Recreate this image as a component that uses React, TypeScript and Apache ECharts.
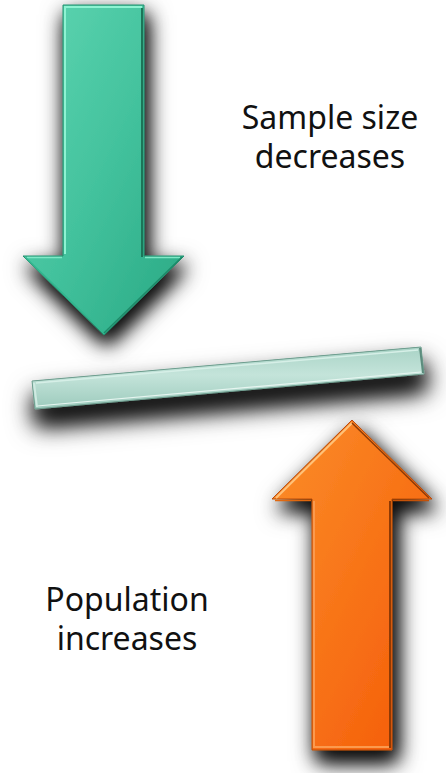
import React, { useEffect, useRef } from "react";
import * as echarts from "echarts";

// Texts shown in the illustration
const topLabel = ["Sample size", "decreases"];
const bottomLabel = ["Population", "increases"];

// Shape outlines (screen px)
const greenArrow = [[63, 5], [144, 5], [144, 256], [184, 256], [104, 335], [23, 256], [63, 256]];
const orangeArrow = [[352, 420], [432, 499], [392, 499], [392, 750], [312, 750], [312, 499], [272, 499]];
const beam = [[32, 381], [421, 347], [424, 374], [35, 409]];

const lg = (x: number, y: number, x2: number, y2: number, stops: [number, string][]) =>
  new echarts.graphic.LinearGradient(x, y, x2, y2, stops.map(([offset, color]) => ({ offset, color })));

export default function App() {
  const ref = useRef<HTMLDivElement>(null);
  useEffect(() => {
    document.body.style.margin = "0";
    const chart = echarts.init(ref.current!, null, { renderer: "svg" });
    const font = "Noto Sans";
    const textEl = (lines: string[], x: number, y: number) => ({
      type: "text",
      x,
      y,
      style: {
        text: lines.join("\n"),
        fill: "#111",
        font: `32px '${font}'`,
        lineHeight: 39,
        align: "center",
        verticalAlign: "middle",
      },
    });
    const shadowLayer = (points: number[][], blur: number, dx: number, dy: number) => ({
      type: "polygon",
      shape: { points },
      style: { fill: "#555", shadowBlur: blur, shadowOffsetX: dx, shadowOffsetY: dy, shadowColor: "rgba(0,0,0,0.85)" },
    });
    chart.setOption({
      animation: false,
      backgroundColor: "#ffffff",
      graphic: [
        // green arrow
        shadowLayer(greenArrow, 18, 3, 10),
        {
          type: "polygon",
          shape: { points: greenArrow },
          style: {
            fill: lg(0, 0, 1, 1, [[0, "#5fd6b2"], [0.5, "#43c29d"], [1, "#28a883"]]),
            stroke: "#23906f",
            lineWidth: 1,
            shadowBlur: 24,
            shadowOffsetX: 3,
            shadowOffsetY: 10,
            shadowColor: "rgba(0,0,0,0.8)",
          },
        },
        { type: "polyline", shape: { points: [[65, 254], [65, 7], [142, 7]] }, style: { stroke: "#8ef3d2", lineWidth: 2, fill: null } },
        { type: "polyline", shape: { points: [[142, 8], [142, 257]] }, style: { stroke: "#1b7558", lineWidth: 2, fill: null } },
        { type: "polyline", shape: { points: [[27, 257.5], [62, 257.5]] }, style: { stroke: "#7fe8c6", lineWidth: 1.5, fill: null } },
        { type: "polyline", shape: { points: [[145, 257.5], [180, 257.5]] }, style: { stroke: "#7fe8c6", lineWidth: 1.5, fill: null } },
        { type: "polyline", shape: { points: [[26, 258], [104, 333]] }, style: { stroke: "#32b68f", lineWidth: 1.5, fill: null } },
        { type: "polyline", shape: { points: [[104, 333], [182, 257]] }, style: { stroke: "#1d8a69", lineWidth: 1.5, fill: null } },

        // beam
        shadowLayer(beam, 20, 2, 16),
        {
          type: "polygon",
          shape: { points: beam },
          style: {
            fill: lg(0, 0, 0, 1, [[0, "#a9d3c6"], [0.45, "#c4e4da"], [1, "#9ccabc"]]),
            stroke: "#6f9f90",
            lineWidth: 1,
            shadowBlur: 28,
            shadowOffsetX: 2,
            shadowOffsetY: 16,
            shadowColor: "rgba(0,0,0,0.8)",
          },
        },
        { type: "polyline", shape: { points: [[36, 383], [418, 350]] }, style: { stroke: "#d6efe7", lineWidth: 1.5, fill: null } },
        { type: "polyline", shape: { points: [[37, 406], [421, 372]] }, style: { stroke: "#e6f5f0", lineWidth: 1.2, fill: null } },
        { type: "polyline", shape: { points: [[420, 348], [423, 373]] }, style: { stroke: "#5c8c7d", lineWidth: 2, fill: null } },
        { type: "polyline", shape: { points: [[34, 383], [37, 407]] }, style: { stroke: "#cfeae1", lineWidth: 2, fill: null } },

        // orange arrow
        shadowLayer(orangeArrow, 18, 5, 11),
        {
          type: "polygon",
          shape: { points: orangeArrow },
          style: {
            fill: lg(0, 0, 1, 1, [[0, "#fb8e2a"], [0.5, "#f87418"], [1, "#f45a08"]]),
            stroke: "#b84a08",
            lineWidth: 1,
            shadowBlur: 24,
            shadowOffsetX: 5,
            shadowOffsetY: 11,
            shadowColor: "rgba(0,0,0,0.8)",
          },
        },
        { type: "polyline", shape: { points: [[276, 498], [352, 423]] }, style: { stroke: "#ffc27a", lineWidth: 2, fill: null } },
        { type: "polyline", shape: { points: [[352, 423], [429, 498]] }, style: { stroke: "#8e3a05", lineWidth: 1.5, fill: null } },
        { type: "polyline", shape: { points: [[275, 500.5], [311, 500.5]] }, style: { stroke: "#e0680f", lineWidth: 1.5, fill: null } },
        { type: "polyline", shape: { points: [[393, 500.5], [429, 500.5]] }, style: { stroke: "#c45208", lineWidth: 1.5, fill: null } },
        { type: "polyline", shape: { points: [[314, 501], [314, 747], [390, 747]] }, style: { stroke: "#fb9a4e", lineWidth: 2, fill: null } },
        { type: "polyline", shape: { points: [[390, 501], [390, 748]] }, style: { stroke: "#8e3a05", lineWidth: 2, fill: null } },

        // texts
        textEl(topLabel, 330, 136),
        textEl(bottomLabel, 127, 618),
      ],
    });
    return () => chart.dispose();
  }, []);
  return <div ref={ref} style={{ position: "absolute", left: 0, top: 0, width: 446, height: 773 }} />;
}
